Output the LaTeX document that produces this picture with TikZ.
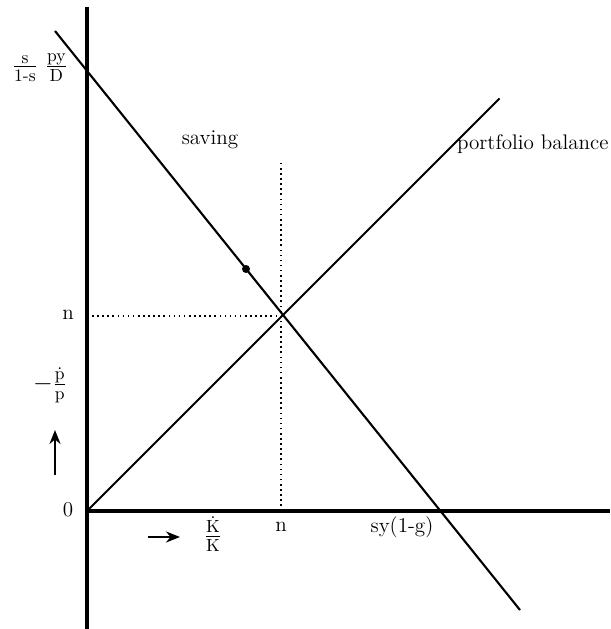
\documentclass[tikz,border=0pt]{standalone}
\usepackage{amsmath}
\usepackage{tikz}
\usetikzlibrary{arrows.meta,positioning,calc}
\tikzset{
  >={Stealth[length=2.8mm,width=2.2mm]},
  gaxis/.style={black, line width=1.9pt},
  gcurve/.style={black, line width=1.2pt},
  gguide/.style={black, dotted, line width=0.9pt},
  glbl/.style={font=\large, inner sep=1pt},
  gfrac/.style={font=\Large, inner sep=1pt},
  gtick/.style={font=\large, inner sep=1pt},
  gdir/.style={->, black, line width=1.5pt},
}

\begin{document}
\begin{tikzpicture}[x=1cm,y=1cm]
  \useasboundingbox (-1.74,-2.36) rectangle (10.46,10.22);

  % axes
  \coordinate (O) at (0,0);
  \coordinate (ytop) at (0,10.08);
  \coordinate (ybot) at (0,-2.36);
  \coordinate (xend) at (10.46,0);
  \draw[gaxis] (ybot) -- (ytop);
  \draw[gaxis] (O) -- (xend);

  % saving and portfolio balance schedules
  \coordinate (stop) at (-0.64,9.6);
  \coordinate (sbot) at (8.66,-1.98);
  \coordinate (ptop) at (8.25,8.25);
  \coordinate (E) at (3.88,3.9);
  \draw[gcurve] (stop) -- (sbot);
  \draw[gcurve] (O) -- (ptop);

  % equilibrium guides
  \coordinate (nx) at (3.88,0);
  \coordinate (ntop) at (3.88,6.98);
  \coordinate (ny) at (0,3.9);
  \draw[gguide] (nx) -- (ntop);
  \draw[gguide] (ny) -- (E);
  \fill (3.18,4.84) circle (0.08);

  % labels
  \node[gfrac] (yint) at (-0.94,8.86) {$\frac{\mathrm{s}}{1\text{-}\mathrm{s}}\;\frac{\mathrm{py}}{\mathrm{D}}$};
  \node[glbl] (sav) at (2.46,7.42) {saving};
  \node[glbl, anchor=west] (pb) at (7.36,7.34) {portfolio balance};
  \node[gtick] (nlev) at (-0.38,3.92) {n};
  \node[gfrac] (pdot) at (-0.74,2.52) {$-\frac{\dot{\mathrm{p}}}{\mathrm{p}}$};
  \node[gtick] (zero) at (-0.38,0.02) {0};
  \node[gfrac] (kdot) at (2.52,-0.46) {$\frac{\dot{\mathrm{K}}}{\mathrm{K}}$};
  \node[gtick] (nrate) at (3.88,-0.32) {n};
  \node[gtick] (sy) at (6.3,-0.32) {sy(1-g)};

  % direction arrows
  \coordinate (ua) at (-0.64,0.72);
  \coordinate (ub) at (-0.64,1.62);
  \coordinate (ra) at (1.22,-0.52);
  \coordinate (rb) at (1.86,-0.52);
  \draw[gdir] (ua) -- (ub);
  \draw[gdir] (ra) -- (rb);
\end{tikzpicture}
\end{document}
